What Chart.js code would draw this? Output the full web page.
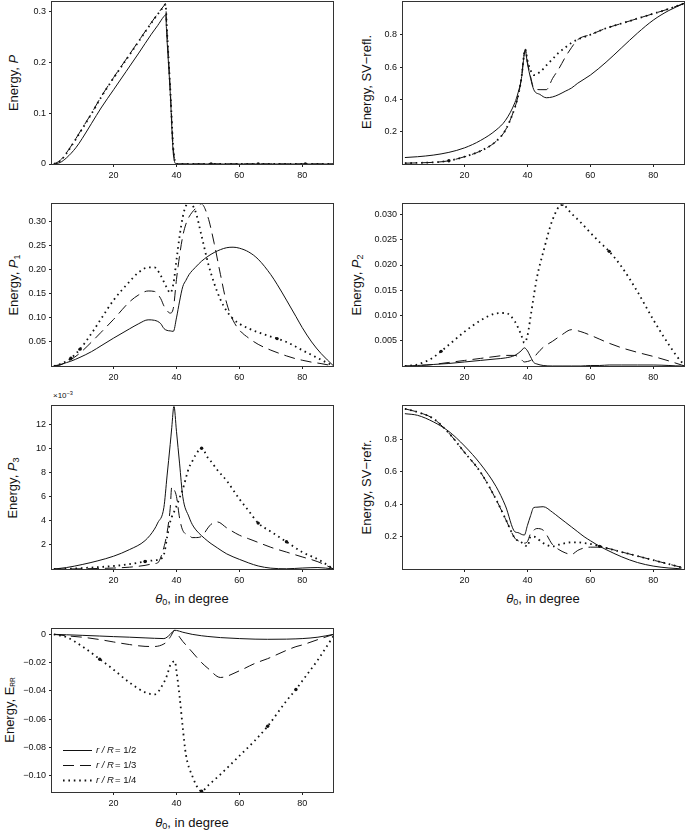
<!DOCTYPE html>
<html><head><meta charset="utf-8">
<script src="https://cdn.jsdelivr.net/npm/chart.js@4.4.1/dist/chart.umd.min.js"></script>
<style>
body{margin:0;background:#fff;width:685px;height:830px;position:relative;overflow:hidden;font-family:"Liberation Sans",Arial,sans-serif;color:#111;}
.cv{position:absolute;}
.yt{position:absolute;transform:translate(-50%,-50%) rotate(-90deg);white-space:nowrap;font-size:13px;line-height:1;}
.xt{position:absolute;transform:translate(-50%,-50%);white-space:nowrap;font-size:13px;line-height:1;}
.sc{position:absolute;white-space:nowrap;font-size:8px;line-height:1;}
sub{font-size:70%;vertical-align:-0.3em;line-height:0;}
sub.rr{font-size:50%;}
sup{font-size:70%;vertical-align:0.5em;line-height:0;}
</style></head><body>
<div class="yt" style="left:13px;top:83px">Energy, <i>P</i></div>
<div class="yt" style="left:366px;top:82px">Energy, SV−refl.</div>
<div class="yt" style="left:13px;top:285px">Energy, <i>P</i><sub>1</sub></div>
<div class="yt" style="left:356px;top:285px">Energy, <i>P</i><sub>2</sub></div>
<div class="yt" style="left:12px;top:488px">Energy, <i>P</i><sub>3</sub></div>
<div class="yt" style="left:366px;top:487px">Energy, SV−refr.</div>
<div class="yt" style="left:9px;top:710px">Energy, E<sub class="rr">RR</sub></div>
<div class="xt" style="left:192px;top:598px"><i>θ</i><sub>0</sub>, in degree</div>
<div class="xt" style="left:543px;top:598px"><i>θ</i><sub>0</sub>, in degree</div>
<div class="xt" style="left:192px;top:822px"><i>θ</i><sub>0</sub>, in degree</div>
<div class="sc" style="left:53px;top:392px">×10<sup>−3</sup></div>
<script>
// ---------- data ----------
const seriesLabels = ['r / R = 1/2', 'r / R = 1/3', 'r / R = 1/4'];
const xTicks = [20, 40, 60, 80];

// Panel 1: Energy, P
const theta1 = [1, 3, 5, 8, 10, 13, 16, 20, 24, 28, 32, 34, 36, 36.5, 37, 38, 39, 40, 45, 51, 55, 60, 66, 70, 75, 81, 85, 90];
const P_half    = [0, 0.003, 0.012, 0.032, 0.05, 0.08, 0.11, 0.146, 0.182, 0.218, 0.255, 0.272, 0.29, 0.293, 0.243, 0.142, 0.02, 0, 0, 0, 0, 0, 0, 0, 0, 0, 0, 0];
const P_third   = [0, 0.007, 0.022, 0.05, 0.07, 0.1, 0.132, 0.17, 0.206, 0.242, 0.278, 0.295, 0.311, 0.315, 0.26, 0.15, 0.03, 0, 0, 0, 0, 0, 0, 0, 0, 0, 0, 0];
const P_quarter = [0, 0.006, 0.021, 0.049, 0.069, 0.099, 0.131, 0.169, 0.205, 0.241, 0.277, 0.294, 0.31, 0.314, 0.26, 0.15, 0.03, 0, 0, 0, 0, 0, 0, 0, 0, 0, 0, 0];
const yTicks1 = [0, 0.1, 0.2, 0.3];
const dots1 = [51, 66, 81];

// Panel 2: Energy, SV-refl.
const theta2 = [1, 5, 10, 15, 20, 25, 30, 33, 36, 37, 38, 39.3, 40, 41, 42, 44, 46, 48, 50, 52, 54, 56, 60, 65, 70, 75, 80, 85, 90];
const SVrefl_half    = [0.04, 0.045, 0.055, 0.072, 0.1, 0.145, 0.21, 0.27, 0.38, 0.44, 0.52, 0.70, 0.62, 0.53, 0.46, 0.43, 0.41, 0.415, 0.43, 0.45, 0.47, 0.5, 0.55, 0.63, 0.72, 0.81, 0.89, 0.95, 0.995];
const SVrefl_third   = [0.005, 0.007, 0.01, 0.02, 0.045, 0.08, 0.14, 0.21, 0.35, 0.42, 0.52, 0.71, 0.63, 0.54, 0.47, 0.46, 0.46, 0.53, 0.59, 0.66, 0.72, 0.77, 0.80, 0.84, 0.87, 0.9, 0.93, 0.96, 0.995];
const SVrefl_quarter = [0.005, 0.007, 0.01, 0.02, 0.045, 0.08, 0.14, 0.21, 0.35, 0.42, 0.52, 0.71, 0.64, 0.58, 0.55, 0.57, 0.61, 0.65, 0.69, 0.72, 0.75, 0.77, 0.80, 0.84, 0.87, 0.9, 0.93, 0.96, 0.995];
const yTicks2 = [0.2, 0.4, 0.6, 0.8];
const dots2 = [15];

// Panel 3: Energy, P1
const theta3 = [1, 3, 5, 6.4, 9.3, 13, 16, 20, 25, 28, 31, 33, 35, 36, 37, 38, 39, 40, 41, 42, 43, 44, 46, 48, 50, 52, 54, 56, 58, 60, 63, 66, 70, 72, 75, 78, 80, 83, 86, 90];
const P1_half    = [0, 0.003, 0.007, 0.01, 0.018, 0.03, 0.042, 0.058, 0.077, 0.088, 0.096, 0.095, 0.088, 0.078, 0.074, 0.073, 0.072, 0.1, 0.135, 0.165, 0.178, 0.19, 0.205, 0.218, 0.228, 0.236, 0.242, 0.246, 0.247, 0.245, 0.237, 0.222, 0.19, 0.17, 0.137, 0.103, 0.08, 0.05, 0.026, 0];
const P1_third   = [0, 0.002, 0.008, 0.013, 0.027, 0.05, 0.07, 0.097, 0.133, 0.148, 0.156, 0.155, 0.14, 0.125, 0.115, 0.11, 0.12, 0.18, 0.23, 0.27, 0.295, 0.31, 0.327, 0.337, 0.31, 0.255, 0.19, 0.13, 0.095, 0.075, 0.058, 0.045, 0.033, 0.028, 0.021, 0.015, 0.012, 0.008, 0.005, 0];
const P1_quarter = [0, 0.004, 0.01, 0.016, 0.035, 0.068, 0.098, 0.137, 0.175, 0.195, 0.205, 0.205, 0.188, 0.175, 0.162, 0.152, 0.17, 0.22, 0.27, 0.31, 0.333, 0.34, 0.322, 0.27, 0.215, 0.172, 0.138, 0.114, 0.098, 0.088, 0.078, 0.07, 0.061, 0.057, 0.05, 0.04, 0.033, 0.023, 0.013, 0];
const yTicks3 = [0.05, 0.10, 0.15, 0.20, 0.25, 0.30];
const dots3 = [6.4, 9.3, 72];

// Panel 4: Energy, P2
const theta4 = [1, 3, 5, 8, 10, 12.5, 15, 20, 25, 30, 33, 36, 38, 39, 40, 41, 42, 43, 45, 48, 51, 54, 57, 60, 63, 66, 70, 75, 80, 85, 89, 90];
const P2_half    = [0, 0, 0.0001, 0.0002, 0.0003, 0.0004, 0.0005, 0.0008, 0.0011, 0.0014, 0.0016, 0.0021, 0.003, 0.0036, 0.003, 0.0018, 0.0007, 0.0004, 0.0001, 0, 0, 0, 0, 0.0001, 0.0001, 0.0002, 0.0002, 0.0002, 0.0002, 0.0001, 0, 0];
const P2_third   = [0, 0, 0.0001, 0.0002, 0.0003, 0.0005, 0.0007, 0.0011, 0.0015, 0.0019, 0.0021, 0.0021, 0.0013, 0.0008, 0.0009, 0.0011, 0.0016, 0.0024, 0.0037, 0.0049, 0.0062, 0.0072, 0.0068, 0.0061, 0.0053, 0.0045, 0.0036, 0.0027, 0.0019, 0.001, 0.0002, 0];
const P2_quarter = [0, 0.0001, 0.0003, 0.001, 0.0017, 0.0029, 0.0042, 0.0068, 0.009, 0.0104, 0.0105, 0.0088, 0.0062, 0.0046, 0.006, 0.0098, 0.0138, 0.0175, 0.0225, 0.029, 0.032, 0.0302, 0.0284, 0.0264, 0.0245, 0.0227, 0.0196, 0.0147, 0.0092, 0.0042, 0.0008, 0.0003];
const yTicks4 = [0.005, 0.010, 0.015, 0.020, 0.025, 0.030];
const dots4 = [12.5, 51, 66];

// Panel 5: Energy, P3 (x 10^-3)
const theta5 = [1, 5, 10, 15, 20, 25, 30, 33, 34, 36, 37, 38, 38.5, 39.2, 40, 41, 42, 44, 45, 46, 48, 50, 51, 53, 56, 60, 63, 66, 70, 75, 80, 85, 90];
const P3_half    = [0, 0.12, 0.37, 0.68, 1.06, 1.6, 2.35, 3.3, 3.8, 5.1, 7.7, 10.3, 11.7, 13.5, 11.4, 8.7, 6.0, 4.3, 3.7, 3.3, 2.75, 2.3, 2.1, 1.75, 1.25, 0.8, 0.5, 0.25, 0.07, 0.02, 0.08, 0.12, 0];
const P3_third   = [0, 0, 0.02, 0.04, 0.08, 0.15, 0.3, 0.45, 0.5, 1.8, 3.0, 5.0, 6.8, 6.6, 6.0, 4.2, 3.2, 2.8, 2.6, 2.6, 2.7, 3.4, 3.7, 3.9, 3.4, 2.8, 2.5, 2.2, 1.8, 1.4, 1.0, 0.6, 0];
const P3_quarter = [0, 0.02, 0.08, 0.15, 0.25, 0.4, 0.62, 0.72, 0.75, 1.2, 2.6, 3.9, 4.3, 4.7, 5.2, 5.9, 6.6, 8.4, 8.9, 9.4, 10.0, 9.2, 8.9, 8.2, 7.3, 5.8, 4.8, 3.8, 3.1, 2.25, 1.4, 0.8, 0];
const yTicks5 = [2, 4, 6, 8, 10, 12];
const dots5 = [30, 48, 66, 75];

// Panel 6: Energy, SV-refr.
const theta6 = [1, 5, 10, 15, 20, 25, 30, 33, 36, 37, 38, 39, 40, 41, 42, 43, 45, 48, 50, 52, 54, 56, 58, 60, 63, 65, 70, 75, 80, 85, 89];
const SVrefr_half    = [0.96, 0.95, 0.91, 0.85, 0.76, 0.65, 0.51, 0.39, 0.23, 0.225, 0.215, 0.21, 0.27, 0.33, 0.38, 0.382, 0.385, 0.35, 0.32, 0.29, 0.26, 0.23, 0.2, 0.175, 0.14, 0.12, 0.075, 0.04, 0.018, 0.006, 0.001];
const SVrefr_third   = [0.99, 0.97, 0.93, 0.84, 0.72, 0.6, 0.43, 0.31, 0.19, 0.175, 0.17, 0.16, 0.17, 0.22, 0.24, 0.25, 0.24, 0.15, 0.12, 0.1, 0.09, 0.115, 0.13, 0.135, 0.135, 0.13, 0.105, 0.08, 0.055, 0.03, 0.01];
const SVrefr_quarter = [0.99, 0.97, 0.93, 0.84, 0.72, 0.6, 0.43, 0.31, 0.19, 0.175, 0.165, 0.15, 0.14, 0.2, 0.2, 0.19, 0.16, 0.14, 0.15, 0.16, 0.165, 0.165, 0.16, 0.155, 0.14, 0.13, 0.105, 0.08, 0.055, 0.03, 0.01];
const yTicks6 = [0.2, 0.4, 0.6, 0.8];
const dots6 = [63];

// Panel 7: Energy, E_RR
const theta7 = [1, 5, 10, 15.6, 20, 25, 30, 33, 36, 37, 38, 39.5, 40, 41, 42, 43, 45, 48, 50, 54, 60, 65, 69, 75, 78, 80, 85, 90];
const ERR_half    = [0, -0.0003, -0.0007, -0.0012, -0.0016, -0.002, -0.0025, -0.0028, -0.003, -0.002, 0, 0.003, 0.0028, 0.0022, 0.0015, 0.001, 0, -0.001, -0.0015, -0.0023, -0.003, -0.0034, -0.0035, -0.0034, -0.0032, -0.003, -0.002, 0];
const ERR_third   = [0, -0.001, -0.002, -0.0037, -0.0054, -0.0072, -0.0085, -0.0086, -0.0068, -0.005, -0.002, 0.0028, 0.0015, -0.002, -0.005, -0.0075, -0.0125, -0.02, -0.024, -0.0305, -0.0258, -0.0205, -0.0172, -0.0113, -0.0087, -0.0075, -0.0037, 0];
const ERR_quarter = [0, -0.002, -0.0085, -0.0176, -0.025, -0.034, -0.041, -0.0425, -0.034, -0.029, -0.022, -0.019, -0.026, -0.044, -0.066, -0.085, -0.1, -0.111, -0.107, -0.099, -0.086, -0.075, -0.065, -0.047, -0.039, -0.033, -0.018, -0.001];
const yTicks7 = [0, -0.02, -0.04, -0.06, -0.08, -0.10];
const dots7 = [15.6, 48, 69, 78];

// ---------- drawing ----------
const FONT = '"Liberation Sans", Arial, sans-serif';
const STYLES = [
  {w: 1.0, dash: []},
  {w: 1.0, dash: [11, 6]},
  {w: 1.8, dash: [1.6, 3.8]}
];

const framePlugin = {
  id: 'frame',
  afterDatasetsDraw(chart) {
    const {ctx, chartArea: a} = chart;
    ctx.save();
    ctx.strokeStyle = '#333'; ctx.lineWidth = 1; ctx.setLineDash([]);
    ctx.strokeRect(Math.round(a.left) - 0.5, Math.round(a.top) - 0.5,
                   Math.round(a.right - a.left) + 1, Math.round(a.bottom - a.top) + 1);
    ctx.restore();
  }
};

const legendPlugin = {
  id: 'inlegend',
  afterDraw(chart, args, opts) {
    if (!opts || !opts.show) return;
    const {ctx, chartArea: a} = chart;
    chart.data.datasets.forEach((ds, i) => {
      const y = Math.round(a.bottom - 42 + i * 15) + 0.5;
      const x0 = a.left + 11, x1 = a.left + 40;
      ctx.save();
      ctx.strokeStyle = '#111'; ctx.lineWidth = ds.borderWidth;
      ctx.setLineDash(ds.borderDash || []);
      ctx.beginPath(); ctx.moveTo(x0, y); ctx.lineTo(x1, y); ctx.stroke();
      ctx.setLineDash([]);
      const parts = ds.label.split('=');
      ctx.fillStyle = '#111'; ctx.textBaseline = 'middle'; ctx.textAlign = 'left';
      ctx.font = 'italic 9.5px ' + FONT;
      const p0 = parts[0].trim();
      ctx.fillText(p0, x1 + 4, y);
      const w = ctx.measureText(p0).width;
      ctx.font = '9.5px ' + FONT;
      ctx.fillText('= ' + parts[1].trim(), x1 + 5 + w, y);
      ctx.restore();
    });
  }
};

function panel(L, T, R, B, theta, ys, yMin, yMax, yTicks, fmt, dots, legend) {
  const cv = document.createElement('canvas');
  const W = R - L + 51, H = B - T + 30;
  cv.width = W; cv.height = H; cv.className = 'cv';
  cv.style.left = (L - 50) + 'px'; cv.style.top = (T - 8) + 'px';
  cv.style.width = W + 'px'; cv.style.height = H + 'px';
  document.body.appendChild(cv);
  const gridOpts = {display: true, drawOnChartArea: false, drawTicks: true, tickLength: 3, color: '#222', lineWidth: 1};
  new Chart(cv, {
    type: 'line',
    data: {
      datasets: ys.map((arr, k) => ({
        label: seriesLabels[k],
        data: theta.map((t, i) => ({x: t, y: arr[i]})),
        borderColor: '#111', backgroundColor: '#111',
        borderWidth: STYLES[k].w, borderDash: STYLES[k].dash,
        pointRadius: k === 2 ? (c => (dots.includes(theta[c.dataIndex]) ? 1.7 : 0)) : 0,
        pointBorderWidth: 0, pointHoverRadius: 0, pointHitRadius: 0,
        cubicInterpolationMode: 'monotone', fill: false
      }))
    },
    options: {
      responsive: false, animation: false, devicePixelRatio: 1,
      layout: {padding: {top: 8, right: 1, left: 0, bottom: 0}},
      events: [],
      plugins: {legend: {display: false}, tooltip: {enabled: false}, inlegend: {show: !!legend}},
      scales: {
        x: {
          type: 'linear', min: 0.4, max: 89.8,
          afterBuildTicks: s => { s.ticks = xTicks.map(v => ({value: v})); },
          afterFit: s => { s.height = 22; },
          grid: gridOpts, border: {display: false},
          ticks: {font: {size: 9, family: FONT}, color: '#111', padding: 3, maxRotation: 0, autoSkip: false, callback: v => String(v)}
        },
        y: {
          type: 'linear', min: yMin, max: yMax,
          afterBuildTicks: s => { s.ticks = yTicks.map(v => ({value: v})); },
          afterFit: s => { s.width = 50; },
          grid: gridOpts, border: {display: false},
          ticks: {font: {size: 9, family: FONT}, color: '#111', padding: 3, autoSkip: false, callback: v => fmt(v)}
        }
      }
    },
    plugins: [framePlugin, legendPlugin]
  });
}

const f1 = v => v === 0 ? '0' : v.toFixed(1);
const f2 = v => v.toFixed(2);
const f3 = v => v.toFixed(3);
const fi = v => String(v);
const fneg = v => v === 0 ? '0' : (v < 0 ? '\u2212' : '') + Math.abs(v).toFixed(2);

panel(52, 2, 333, 164, theta1, [P_half, P_third, P_quarter], 0, 0.3176, yTicks1, f1, dots1, false);
panel(403, 2, 684, 164, theta2, [SVrefl_half, SVrefl_third, SVrefl_quarter], 0, 1.0, yTicks2, f1, dots2, false);
panel(52, 204, 333, 366, theta3, [P1_half, P1_third, P1_quarter], 0, 0.336, yTicks3, f2, dots3, false);
panel(403, 204, 684, 366, theta4, [P2_half, P2_third, P2_quarter], 0, 0.032, yTicks4, f3, dots4, false);
panel(52, 406, 333, 569, theta5, [P3_half, P3_third, P3_quarter], 0, 13.46, yTicks5, fi, dots5, false);
panel(403, 406, 684, 569, theta6, [SVrefr_half, SVrefr_third, SVrefr_quarter], 0, 1.005, yTicks6, f1, dots6, false);
panel(52, 629, 333, 792, theta7, [ERR_half, ERR_third, ERR_quarter], -0.1115, 0.0035, yTicks7, fneg, dots7, true);
</script>
</body></html>
